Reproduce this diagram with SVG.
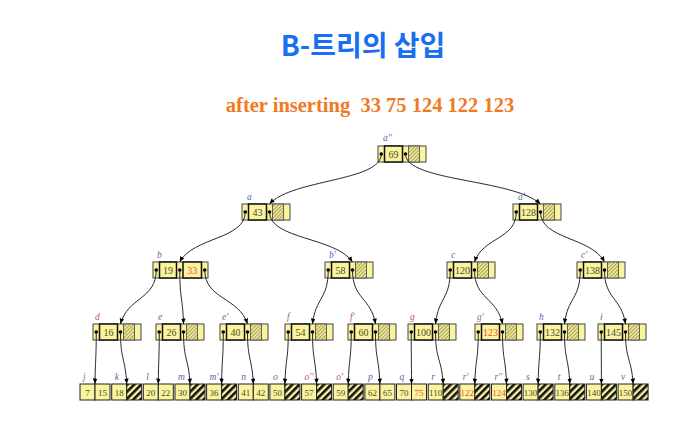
<svg xmlns="http://www.w3.org/2000/svg" width="696" height="430" viewBox="0 0 696 430">
<style>
.nb{fill:#faf3a0;stroke:#444;stroke-width:1}
.kc{fill:#faf3a0;stroke:#111;stroke-width:1.5}
.hc{fill:url(#fine);stroke:#444;stroke-width:0.8}
.lc{fill:#faf3a0;stroke:#222;stroke-width:1}
.lh{fill:url(#bold);stroke:#222;stroke-width:1}
.dot{fill:#000}
.k{font-family:"Liberation Serif",serif;font-size:10px;fill:#4d4d1f;text-anchor:middle}
.lk{font-family:"Liberation Serif",serif;font-size:9px;fill:#4d4d1f;text-anchor:middle}
.r{fill:#f0502a}
.lb{font-family:"Liberation Serif",serif;font-style:italic;font-size:9.5px;fill:#4f6aa8}
.lo{fill:#b0604a}
.cn path{fill:none;stroke:#111;stroke-width:0.9;marker-end:url(#ah)}
</style>
<defs>
<pattern id="fine" width="2.6" height="2.6" patternUnits="userSpaceOnUse" patternTransform="rotate(45)">
<rect width="2.6" height="2.6" fill="#f1e898"/>
<line x1="0.5" y1="0" x2="0.5" y2="2.6" stroke="#9c9a55" stroke-width="0.9"/>
</pattern>
<pattern id="bold" width="5" height="5" patternUnits="userSpaceOnUse" patternTransform="rotate(45)">
<rect width="5" height="5" fill="#faf3a0"/>
<rect width="2.6" height="5" fill="#111"/>
</pattern>
<marker id="ah" markerUnits="userSpaceOnUse" markerWidth="6" markerHeight="5" refX="5.5" refY="2.25" orient="auto">
<path d="M0,0 L5.5,2.25 L0,4.5 z" fill="#000"/>
</marker>
</defs>
<rect width="696" height="430" fill="#fff"/>
<text x="363" y="56" font-family="'Noto Sans CJK KR','Noto Sans',sans-serif" font-weight="bold" font-size="28" fill="#1a6ff0" text-anchor="middle">B-트리의 삽입</text>
<text x="370" y="112" font-family="'Liberation Serif',serif" font-weight="bold" font-size="20.5" fill="#f07a22" text-anchor="middle" style="white-space:pre">after inserting  33 75 124 122 123</text>

<g id="root" transform="translate(378,146)">
<rect class="nb" width="48" height="16"/><rect class="kc" x="6.5" width="18" height="16"/><rect class="hc" x="30.5" width="11" height="16"/>
<circle class="dot" cx="3.25" cy="8" r="1.8"/><circle class="dot" cx="27.5" cy="8" r="1.8"/>
<text class="k" x="15.5" y="11.5">69</text><text class="lb" x="5" y="-5">a''</text></g>

<g id="a" transform="translate(242,204)">
<rect class="nb" width="48" height="16"/><rect class="kc" x="6.5" width="18" height="16"/><rect class="hc" x="30.5" width="11" height="16"/>
<circle class="dot" cx="3.25" cy="8" r="1.8"/><circle class="dot" cx="27.5" cy="8" r="1.8"/>
<text class="k" x="15.5" y="11.5">43</text><text class="lb" x="5" y="-4">a</text></g>
<g id="a1" transform="translate(513,204)">
<rect class="nb" width="48" height="16"/><rect class="kc" x="6.5" width="18" height="16"/><rect class="hc" x="30.5" width="11" height="16"/>
<circle class="dot" cx="3.25" cy="8" r="1.8"/><circle class="dot" cx="27.5" cy="8" r="1.8"/>
<text class="k" x="15.5" y="11.5">128</text><text class="lb" x="5" y="-4">a'</text></g>

<g id="b" transform="translate(153,262)">
<rect class="nb" width="55" height="16"/><rect class="kc" x="6.5" width="17" height="16"/><rect class="kc" x="30" width="18.5" height="16"/>
<circle class="dot" cx="3.25" cy="8" r="1.8"/><circle class="dot" cx="26.75" cy="8" r="1.8"/><circle class="dot" cx="51.75" cy="8" r="1.8"/>
<text class="k" x="15" y="11.5">19</text><text class="k r" x="39.25" y="11.5">33</text><text class="lb" x="4" y="-4">b</text></g>
<g id="b1" transform="translate(325,262)">
<rect class="nb" width="48" height="16"/><rect class="kc" x="6.5" width="18" height="16"/><rect class="hc" x="30.5" width="11" height="16"/>
<circle class="dot" cx="3.25" cy="8" r="1.8"/><circle class="dot" cx="27.5" cy="8" r="1.8"/>
<text class="k" x="15.5" y="11.5">58</text><text class="lb" x="4" y="-4">b'</text></g>
<g id="c" transform="translate(447,262)">
<rect class="nb" width="48" height="16"/><rect class="kc" x="6.5" width="18" height="16"/><rect class="hc" x="30.5" width="11" height="16"/>
<circle class="dot" cx="3.25" cy="8" r="1.8"/><circle class="dot" cx="27.5" cy="8" r="1.8"/>
<text class="k" x="15.5" y="11.5">120</text><text class="lb" x="4" y="-4">c</text></g>
<g id="c1" transform="translate(577,262)">
<rect class="nb" width="48" height="16"/><rect class="kc" x="6.5" width="18" height="16"/><rect class="hc" x="30.5" width="11" height="16"/>
<circle class="dot" cx="3.25" cy="8" r="1.8"/><circle class="dot" cx="27.5" cy="8" r="1.8"/>
<text class="k" x="15.5" y="11.5">138</text><text class="lb" x="4" y="-4">c'</text></g>

<g id="d" transform="translate(93,324)">
<rect class="nb" width="48" height="16"/><rect class="kc" x="6.5" width="18" height="16"/><rect class="hc" x="30.5" width="11" height="16"/>
<circle class="dot" cx="3.25" cy="8" r="1.8"/><circle class="dot" cx="27.5" cy="8" r="1.8"/>
<text class="k" x="15.5" y="11.5">16</text><text class="lb lo" x="2" y="-4">d</text></g>
<g id="e" transform="translate(156,324)">
<rect class="nb" width="48" height="16"/><rect class="kc" x="6.5" width="18" height="16"/><rect class="hc" x="30.5" width="11" height="16"/>
<circle class="dot" cx="3.25" cy="8" r="1.8"/><circle class="dot" cx="27.5" cy="8" r="1.8"/>
<text class="k" x="15.5" y="11.5">26</text><text class="lb" x="2" y="-4">e</text></g>
<g id="e1" transform="translate(220,324)">
<rect class="nb" width="48" height="16"/><rect class="kc" x="6.5" width="18" height="16"/><rect class="hc" x="30.5" width="11" height="16"/>
<circle class="dot" cx="3.25" cy="8" r="1.8"/><circle class="dot" cx="27.5" cy="8" r="1.8"/>
<text class="k" x="15.5" y="11.5">40</text><text class="lb" x="2" y="-4">e'</text></g>
<g id="f" transform="translate(285,324)">
<rect class="nb" width="48" height="16"/><rect class="kc" x="6.5" width="18" height="16"/><rect class="hc" x="30.5" width="11" height="16"/>
<circle class="dot" cx="3.25" cy="8" r="1.8"/><circle class="dot" cx="27.5" cy="8" r="1.8"/>
<text class="k" x="15.5" y="11.5">54</text><text class="lb lo" x="2" y="-4">f</text></g>
<g id="f1" transform="translate(348,324)">
<rect class="nb" width="48" height="16"/><rect class="kc" x="6.5" width="18" height="16"/><rect class="hc" x="30.5" width="11" height="16"/>
<circle class="dot" cx="3.25" cy="8" r="1.8"/><circle class="dot" cx="27.5" cy="8" r="1.8"/>
<text class="k" x="15.5" y="11.5">60</text><text class="lb lo" x="2" y="-4">f'</text></g>
<g id="g" transform="translate(408,324)">
<rect class="nb" width="48" height="16"/><rect class="kc" x="6.5" width="18" height="16"/><rect class="hc" x="30.5" width="11" height="16"/>
<circle class="dot" cx="3.25" cy="8" r="1.8"/><circle class="dot" cx="27.5" cy="8" r="1.8"/>
<text class="k" x="15.5" y="11.5">100</text><text class="lb lo" x="2" y="-4">g</text></g>
<g id="g1" transform="translate(475,324)">
<rect class="nb" width="48" height="16"/><rect class="kc" x="6.5" width="18" height="16"/><rect class="hc" x="30.5" width="11" height="16"/>
<circle class="dot" cx="3.25" cy="8" r="1.8"/><circle class="dot" cx="27.5" cy="8" r="1.8"/>
<text class="k r" x="15.5" y="11.5">123</text><text class="lb lo" x="2" y="-4">g'</text></g>
<g id="h" transform="translate(537,324)">
<rect class="nb" width="48" height="16"/><rect class="kc" x="6.5" width="18" height="16"/><rect class="hc" x="30.5" width="11" height="16"/>
<circle class="dot" cx="3.25" cy="8" r="1.8"/><circle class="dot" cx="27.5" cy="8" r="1.8"/>
<text class="k" x="15.5" y="11.5">132</text><text class="lb" x="2" y="-4">h</text></g>
<g id="i" transform="translate(598,324)">
<rect class="nb" width="48" height="16"/><rect class="kc" x="6.5" width="18" height="16"/><rect class="hc" x="30.5" width="11" height="16"/>
<circle class="dot" cx="3.25" cy="8" r="1.8"/><circle class="dot" cx="27.5" cy="8" r="1.8"/>
<text class="k" x="15.5" y="11.5">145</text><text class="lb" x="2" y="-4">i</text></g>

<g id="j" transform="translate(80,384)"><rect class="lc" width="15" height="16"/><rect class="lc" x="15" width="15" height="16"/><text class="lk" x="7.5" y="11.5">7</text><text class="lk" x="22.5" y="11.5">15</text><text class="lb lo" x="3" y="-4">j</text></g>
<g id="k" transform="translate(111.7,384)"><rect class="lc" width="15" height="16"/><rect class="lh" x="15" width="15" height="16"/><text class="lk" x="7.5" y="11.5">18</text><text class="lb" x="3" y="-4">k</text></g>
<g id="l" transform="translate(143.3,384)"><rect class="lc" width="15" height="16"/><rect class="lc" x="15" width="15" height="16"/><text class="lk" x="7.5" y="11.5">20</text><text class="lk" x="22.5" y="11.5">22</text><text class="lb" x="3" y="-4">l</text></g>
<g id="m" transform="translate(175,384)"><rect class="lc" width="15" height="16"/><rect class="lh" x="15" width="15" height="16"/><text class="lk" x="7.5" y="11.5">30</text><text class="lb" x="3" y="-4">m</text></g>
<g id="m1" transform="translate(206.6,384)"><rect class="lc" width="15" height="16"/><rect class="lh" x="15" width="15" height="16"/><text class="lk" x="7.5" y="11.5">36</text><text class="lb" x="3" y="-4">m'</text></g>
<g id="n" transform="translate(238.3,384)"><rect class="lc" width="15" height="16"/><rect class="lc" x="15" width="15" height="16"/><text class="lk" x="7.5" y="11.5">41</text><text class="lk" x="22.5" y="11.5">42</text><text class="lb" x="3" y="-4">n</text></g>
<g id="o" transform="translate(269.9,384)"><rect class="lc" width="15" height="16"/><rect class="lh" x="15" width="15" height="16"/><text class="lk" x="7.5" y="11.5">50</text><text class="lb" x="3" y="-4">o</text></g>
<g id="o2" transform="translate(301.6,384)"><rect class="lc" width="15" height="16"/><rect class="lh" x="15" width="15" height="16"/><text class="lk" x="7.5" y="11.5">57</text><text class="lb lo" x="3" y="-4">o''</text></g>
<g id="o1" transform="translate(333.2,384)"><rect class="lc" width="15" height="16"/><rect class="lh" x="15" width="15" height="16"/><text class="lk" x="7.5" y="11.5">59</text><text class="lb lo" x="3" y="-4">o'</text></g>
<g id="p" transform="translate(364.9,384)"><rect class="lc" width="15" height="16"/><rect class="lc" x="15" width="15" height="16"/><text class="lk" x="7.5" y="11.5">62</text><text class="lk" x="22.5" y="11.5">65</text><text class="lb" x="3" y="-4">p</text></g>
<g id="q" transform="translate(396.5,384)"><rect class="lc" width="15" height="16"/><rect class="lc" x="15" width="15" height="16"/><text class="lk" x="7.5" y="11.5">70</text><text class="lk r" x="22.5" y="11.5">75</text><text class="lb" x="3" y="-4">q</text></g>
<g id="r" transform="translate(428.2,384)"><rect class="lc" width="15" height="16"/><rect class="lh" x="15" width="15" height="16"/><text class="lk" x="7.5" y="11.5">110</text><text class="lb" x="3" y="-4">r</text></g>
<g id="r1" transform="translate(459.8,384)"><rect class="lc" width="15" height="16"/><rect class="lh" x="15" width="15" height="16"/><text class="lk r" x="7.5" y="11.5">122</text><text class="lb lo" x="3" y="-4">r'</text></g>
<g id="r2" transform="translate(491.5,384)"><rect class="lc" width="15" height="16"/><rect class="lh" x="15" width="15" height="16"/><text class="lk r" x="7.5" y="11.5">124</text><text class="lb lo" x="3" y="-4">r''</text></g>
<g id="s" transform="translate(523.1,384)"><rect class="lc" width="15" height="16"/><rect class="lh" x="15" width="15" height="16"/><text class="lk" x="7.5" y="11.5">130</text><text class="lb" x="3" y="-4">s</text></g>
<g id="t" transform="translate(554.8,384)"><rect class="lc" width="15" height="16"/><rect class="lh" x="15" width="15" height="16"/><text class="lk" x="7.5" y="11.5">136</text><text class="lb" x="3" y="-4">t</text></g>
<g id="u" transform="translate(586.4,384)"><rect class="lc" width="15" height="16"/><rect class="lh" x="15" width="15" height="16"/><text class="lk" x="7.5" y="11.5">140</text><text class="lb" x="3" y="-4">u</text></g>
<g id="v" transform="translate(618.1,384)"><rect class="lc" width="15" height="16"/><rect class="lh" x="15" width="15" height="16"/><text class="lk" x="7.5" y="11.5">150</text><text class="lb" x="3" y="-4">v</text></g>

<g id="connectors" class="cn">
<path d="M381.25,154 C381.25,181.5 291.9,179 269.5,204"/>
<path d="M405.5,154 C405.5,181.5 513.5,179 540.5,204"/>
<path d="M245.25,212 C245.25,239.5 192.85,237 179.75,262"/>
<path d="M269.5,212 C269.5,239.5 335.9,237 352.5,262"/>
<path d="M516.25,212 C516.25,239.5 482.85,237 474.5,262"/>
<path d="M540.5,212 C540.5,239.5 591.7,237 604.5,262"/>
<path d="M156.25,270 C156.25,299.5 127.65,297 120.5,324"/>
<path d="M179.75,270 C179.75,299.5 182.75,297 183.5,324"/>
<path d="M204.75,270 C204.75,299.5 238.95,297 247.5,324"/>
<path d="M328.25,270 C328.25,299.5 315.65,297 312.5,324"/>
<path d="M352.5,270 C352.5,299.5 370.9,297 375.5,324"/>
<path d="M450.25,270 C450.25,299.5 438.45,297 435.5,324"/>
<path d="M474.5,270 C474.5,299.5 496.9,297 502.5,324"/>
<path d="M580.25,270 C580.25,299.5 567.65,297 564.5,324"/>
<path d="M604.5,270 C604.5,299.5 621.3,297 625.5,324"/>
<path d="M96.25,332 C96.25,360.5 95.25,358 95,384"/>
<path d="M120.5,332 C120.5,360.5 125.4,358 126.7,384"/>
<path d="M159.25,332 C159.25,360.5 158.5,358 158.3,384"/>
<path d="M183.5,332 C183.5,360.5 188.7,358 190,384"/>
<path d="M223.25,332 C223.25,360.5 221.9,358 221.6,384"/>
<path d="M247.5,332 C247.5,360.5 252.1,358 253.3,384"/>
<path d="M288.25,332 C288.25,360.5 285.6,358 284.9,384"/>
<path d="M312.5,332 C312.5,360.5 315.7,358 316.6,384"/>
<path d="M351.25,332 C351.25,360.5 348.8,358 348.2,384"/>
<path d="M375.5,332 C375.5,360.5 379,358 379.9,384"/>
<path d="M411.25,332 C411.25,360.5 411.5,358 411.5,384"/>
<path d="M435.5,332 C435.5,360.5 441.6,358 443.2,384"/>
<path d="M478.25,332 C478.25,360.5 475.5,358 474.8,384"/>
<path d="M502.5,332 C502.5,360.5 505.7,358 506.5,384"/>
<path d="M540.25,332 C540.25,360.5 538.5,358 538.1,384"/>
<path d="M564.5,332 C564.5,360.5 568.7,358 569.8,384"/>
<path d="M601.25,332 C601.25,360.5 601.4,358 601.4,384"/>
<path d="M625.5,332 C625.5,360.5 631.5,358 633.1,384"/>
</g>
</svg>
